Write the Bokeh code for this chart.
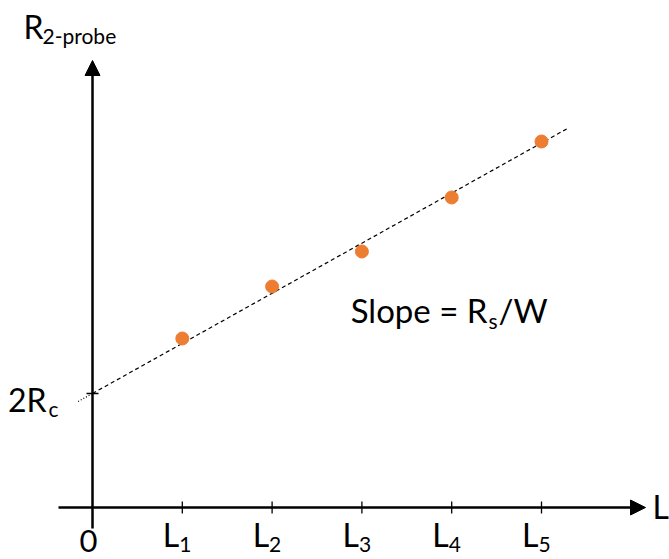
from bokeh.plotting import figure
from bokeh.models import Range1d, Arrow, NormalHead
from bokeh.core.properties import value
from bokeh.embed import file_html
from bokeh.resources import INLINE

# ---- data ----
L_VALUES = [1, 2, 3, 4, 5]
L_SUBS = ["1", "2", "3", "4", "5"]
R_VALUES = [2.965, 3.877, 4.491, 5.439, 6.421]
INTERCEPT = 2.0          # 2Rc
SLOPE = 0.879            # Rs/W
FIT_X = [0.0, 5.30]
FIT_X_LEFT = [-0.16, 0.0]

# ---- pixel mapping helpers (for ranges only) ----
X0_PX, Y0_PX, XS, YS = 92.0, 507.0, 89.8, 57.0
def px2x(px):
    return (px - X0_PX) / XS
def px2y(py):
    return (Y0_PX - py) / YS

W, H = 669, 559
p = figure(width=W, height=H, output_backend="svg", toolbar_location=None,
           x_range=Range1d(px2x(0), px2x(W)), y_range=Range1d(px2y(H), px2y(0)),
           x_axis_type=None, y_axis_type=None, min_border=0)
p.grid.visible = False
p.outline_line_color = None
p.background_fill_color = "white"

FONT = value("Lato")
BIG = "32px"
SMALL = "21px"
DY = -9  # text baseline correction

# axes with arrows
x_end = px2x(645)
y_end = px2y(60)
p.add_layout(Arrow(end=NormalHead(size=15, fill_color="black", line_color="black", line_width=1),
                   x_start=px2x(58), y_start=0, x_end=x_end, y_end=0,
                   line_width=2.5, line_color="black"))
p.add_layout(Arrow(end=NormalHead(size=15, fill_color="black", line_color="black", line_width=1),
                   x_start=0, y_start=px2y(528), x_end=0, y_end=y_end,
                   line_width=2.5, line_color="black"))

# ticks on x axis
tick_h = 6 / YS
p.segment(x0=L_VALUES, y0=[-tick_h] * 5, x1=L_VALUES, y1=[tick_h] * 5,
          line_color="black", line_width=1.3)
# tick at 2Rc
tick_w = 6 / XS
p.segment(x0=[-tick_w], y0=[INTERCEPT], x1=[tick_w], y1=[INTERCEPT],
          line_color="black", line_width=1.3)

# fit line
p.line(FIT_X, [INTERCEPT + SLOPE * x for x in FIT_X], line_color="black",
       line_width=1.2, line_dash="4 3")
p.line(FIT_X_LEFT, [INTERCEPT + SLOPE * x for x in FIT_X_LEFT], line_color="black",
       line_width=1.2, line_dash="1 2")

# data points
p.scatter(L_VALUES, R_VALUES, size=13, fill_color="#ED7D31", line_color="#ED7D31")

# x tick labels L_i
p.text(x=L_VALUES, y=[0] * 5, text=["L"] * 5, text_font=FONT, text_font_size=BIG,
       text_align="right", text_baseline="alphabetic", x_offset=-3, y_offset=36 + DY,
       text_color="black")
p.text(x=L_VALUES, y=[0] * 5, text=L_SUBS, text_font=FONT, text_font_size=SMALL,
       text_align="left", text_baseline="alphabetic", x_offset=-3, y_offset=46 + DY,
       text_color="black")
# origin label
p.text(x=[0], y=[0], text=["0"], text_font=FONT, text_font_size="31px",
       text_align="center", text_baseline="alphabetic", x_offset=-4, y_offset=42 + DY,
       text_color="black")
# L axis label
p.text(x=[x_end], y=[0], text=["L"], text_font=FONT, text_font_size=BIG,
       text_align="left", text_baseline="alphabetic", x_offset=7, y_offset=8 + DY,
       text_color="black")
# 2Rc label
p.text(x=[0], y=[INTERCEPT], text=["2R"], text_font=FONT, text_font_size=BIG,
       text_align="right", text_baseline="alphabetic", x_offset=-46, y_offset=15 + DY,
       text_color="black")
p.text(x=[0], y=[INTERCEPT], text=["c"], text_font=FONT, text_font_size=SMALL,
       text_align="left", text_baseline="alphabetic", x_offset=-44, y_offset=24 + DY,
       text_color="black")
# y axis label R_2-probe
p.text(x=[0], y=[y_end], text=["R"], text_font=FONT, text_font_size=BIG,
       text_align="left", text_baseline="alphabetic", x_offset=-69, y_offset=-25 + DY,
       text_color="black")
p.text(x=[0], y=[y_end], text=["2-probe"], text_font=FONT, text_font_size=SMALL,
       text_align="left", text_baseline="alphabetic", x_offset=-50, y_offset=-16 + DY,
       text_color="black")
# slope annotation
sx, sy = px2x(487), px2y(318)
p.text(x=[sx], y=[sy], text=["Slope = R"], text_font=FONT, text_font_size="33px",
       text_align="right", text_baseline="alphabetic", y_offset=DY, text_color="black")
p.text(x=[sx], y=[sy], text=["s"], text_font=FONT, text_font_size=SMALL,
       text_align="left", text_baseline="alphabetic", x_offset=1, y_offset=11 + DY,
       text_color="black")
p.text(x=[sx], y=[sy], text=["/W"], text_font=FONT, text_font_size="33px",
       text_align="left", text_baseline="alphabetic", x_offset=11, y_offset=DY,
       text_color="black")

open("out.html", "w").write(file_html(p, INLINE))
